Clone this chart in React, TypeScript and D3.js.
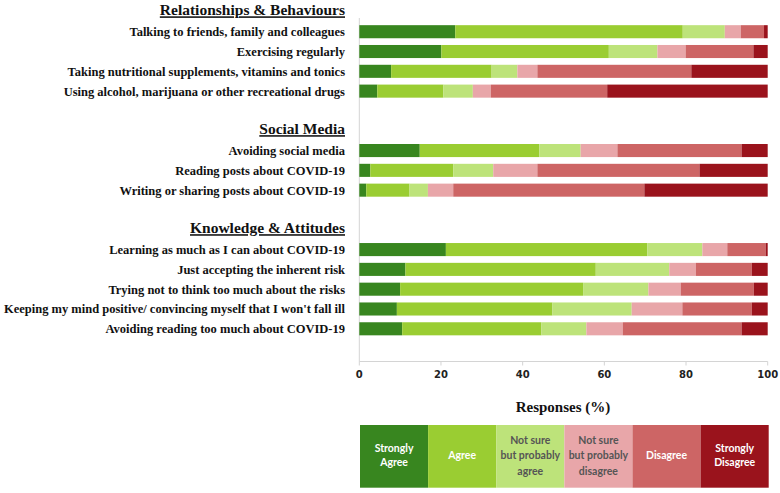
import { useEffect, useRef } from "react"
import * as d3 from "d3"

// response levels, left to right
const levels = ["Strongly Agree", "Agree", "Not sure but probably agree", "Not sure but probably disagree", "Disagree", "Strongly Disagree"]
const levelLines = [["Strongly", "Agree"], ["Agree"], ["Not sure", "but probably", "agree"], ["Not sure", "but probably", "disagree"], ["Disagree"], ["Strongly", "Disagree"]]
const levelColors = ["#38861f", "#9acd32", "#bde37a", "#e8a6a9", "#cd6565", "#9a131c"]
const levelTextColors = ["#ffffff", "#ffffff", "#555555", "#555555", "#ffffff", "#ffffff"]

const groups = ["Relationships & Behaviours", "Social Media", "Knowledge & Attitudes"]

const relItems = [
    "Talking to friends, family and colleagues",
    "Exercising regularly",
    "Taking nutritional supplements, vitamins and tonics",
    "Using alcohol, marijuana or other recreational drugs",
]
const relValues = [
    [23.5, 55.7, 10.3, 3.9, 5.7, 0.9],
    [20.1, 41.0, 11.9, 6.9, 16.6, 3.5],
    [7.8, 24.6, 6.3, 4.9, 37.7, 18.7],
    [4.4, 16.2, 7.2, 4.4, 28.5, 39.3],
]

const socialItems = [
    "Avoiding social media",
    "Reading posts about COVID-19",
    "Writing or sharing posts about COVID-19",
]
const socialValues = [
    [14.8, 29.3, 10.1, 9.0, 30.4, 6.4],
    [2.7, 20.3, 9.8, 10.8, 39.7, 16.7],
    [1.7, 10.6, 4.5, 6.2, 46.8, 30.2],
]

const knowItems = [
    "Learning as much as I can about COVID-19",
    "Just accepting the inherent risk",
    "Trying not to think too much about the risks",
    "Keeping my mind positive/ convincing myself that I won't fall ill",
    "Avoiding reading too much about COVID-19",
]
const knowValues = [
    [21.2, 49.3, 13.5, 6.1, 9.4, 0.5],
    [11.3, 46.6, 18.0, 6.5, 13.7, 3.9],
    [10.0, 44.8, 16.0, 7.9, 17.9, 3.4],
    [9.2, 38.1, 19.4, 12.4, 17.0, 3.9],
    [10.5, 34.1, 11.0, 8.9, 29.1, 6.4],
]

const xTicks = [0, 20, 40, 60, 80, 100]

interface Row {
    key: string
    kind: "header" | "item" | "blank"
    label: string
    values?: number[]
}

export default function App() {
    const svgRef = useRef<SVGSVGElement | null>(null)

    useEffect(() => {
        document.body.style.margin = "0"
        if (!svgRef.current) return
        const svg = d3.select(svgRef.current)
        svg.selectAll("*").remove()

        const width = 780
        const serif = "'Liberation Serif', 'Times New Roman', serif"

        // build rows: header, items, blank spacer between groups
        const sets = [relItems, socialItems, knowItems]
        const vals = [relValues, socialValues, knowValues]
        const rows: Row[] = []
        groups.forEach((g, gi) => {
            if (gi > 0) rows.push({ key: "blank" + gi, kind: "blank", label: "" })
            rows.push({ key: "h" + gi, kind: "header", label: g })
            sets[gi].forEach((it, i) => rows.push({ key: "i" + gi + "_" + i, kind: "item", label: it, values: vals[gi][i] }))
        })

        const x = d3.scaleLinear().domain([0, 100]).range([359.3, 767.7])
        const y = d3
            .scaleBand()
            .domain(rows.map((r) => r.key))
            .range([2, 338.7])
            .paddingInner(0.34)
            .paddingOuter(0.17)

        const axisY = 361.5
        const labelX = 345

        // y axis line
        svg.append("line")
            .attr("x1", x(0)).attr("x2", x(0))
            .attr("y1", 18).attr("y2", axisY)
            .attr("stroke", "#d4d4d4").attr("stroke-width", 1)

        // bars
        const stack = d3.stack<number[]>().keys(levels.map((_, i) => String(i))).value((d, k) => d[+k])
        const itemRows = rows.filter((r) => r.kind === "item")
        const series = stack(itemRows.map((r) => r.values!))
        series.forEach((s, si) => {
            svg.append("g")
                .selectAll("rect")
                .data(s)
                .enter()
                .append("rect")
                .attr("x", (d) => x(d[0]))
                .attr("width", (d) => x(d[1]) - x(d[0]))
                .attr("y", (_, i) => y(itemRows[i].key)!)
                .attr("height", y.bandwidth())
                .attr("fill", levelColors[si])
        })

        // row labels
        rows.filter((r) => r.kind !== "blank").forEach((r) => {
            const cy = y(r.key)! + y.bandwidth() / 2
            svg.append("text")
                .attr("x", labelX)
                .attr("y", r.kind === "header" ? cy - 2 : cy)
                .attr("dy", "0.35em")
                .attr("text-anchor", "end")
                .attr("font-family", serif)
                .attr("font-weight", "bold")
                .attr("font-size", r.kind === "header" ? 15.5 : 12.5)
                .attr("text-decoration", r.kind === "header" ? "underline" : null)
                .attr("fill", "#111")
                .text(r.label)
        })

        // x axis
        svg.append("line")
            .attr("x1", x(0)).attr("x2", x(100))
            .attr("y1", axisY).attr("y2", axisY)
            .attr("stroke", "#d4d4d4")
        xTicks.forEach((t) => {
            svg.append("line")
                .attr("x1", x(t)).attr("x2", x(t))
                .attr("y1", axisY).attr("y2", axisY + 4)
                .attr("stroke", "#d4d4d4")
            svg.append("text")
                .attr("x", x(t))
                .attr("y", 374.5)
                .attr("dy", "0.35em")
                .attr("text-anchor", "middle")
                .attr("font-family", "'DejaVu Sans', sans-serif")
                .attr("font-weight", "bold")
                .attr("font-size", 10)
                .attr("fill", "#222")
                .text(t)
        })

        svg.append("text")
            .attr("x", 563)
            .attr("y", 407)
            .attr("dy", "0.35em")
            .attr("text-anchor", "middle")
            .attr("font-family", serif)
            .attr("font-weight", "bold")
            .attr("font-size", 15)
            .attr("fill", "#111")
            .text("Responses (%)")

        // legend
        const lx = d3.scaleBand().domain(levels).range([360, 768.7])
        const legTop = 425
        const legH = 62.7
        levels.forEach((lv, i) => {
            const g = svg.append("g")
            g.append("rect")
                .attr("x", lx(lv)!)
                .attr("y", legTop)
                .attr("width", lx.bandwidth())
                .attr("height", legH)
                .attr("fill", levelColors[i])
            const lines = levelLines[i]
            const lh = lines.length === 3 ? 15.5 : 14
            const cy = legTop + legH / 2 - (lines.length === 3 ? 1 : 1.5)
            lines.forEach((ln, li) => {
                g.append("text")
                    .attr("x", lx(lv)! + lx.bandwidth() / 2)
                    .attr("y", cy + (li - (lines.length - 1) / 2) * lh)
                    .attr("dy", "0.35em")
                    .attr("text-anchor", "middle")
                    .attr("font-family", "Lato, 'Open Sans', sans-serif")
                    .attr("font-weight", "bold")
                    .attr("font-size", 10.5)
                    .attr("fill", levelTextColors[i])
                    .text(ln)
            })
        })
    }, [])

    return <svg ref={svgRef} width={780} height={493} style={{ display: "block", background: "#fff" }} />
}
